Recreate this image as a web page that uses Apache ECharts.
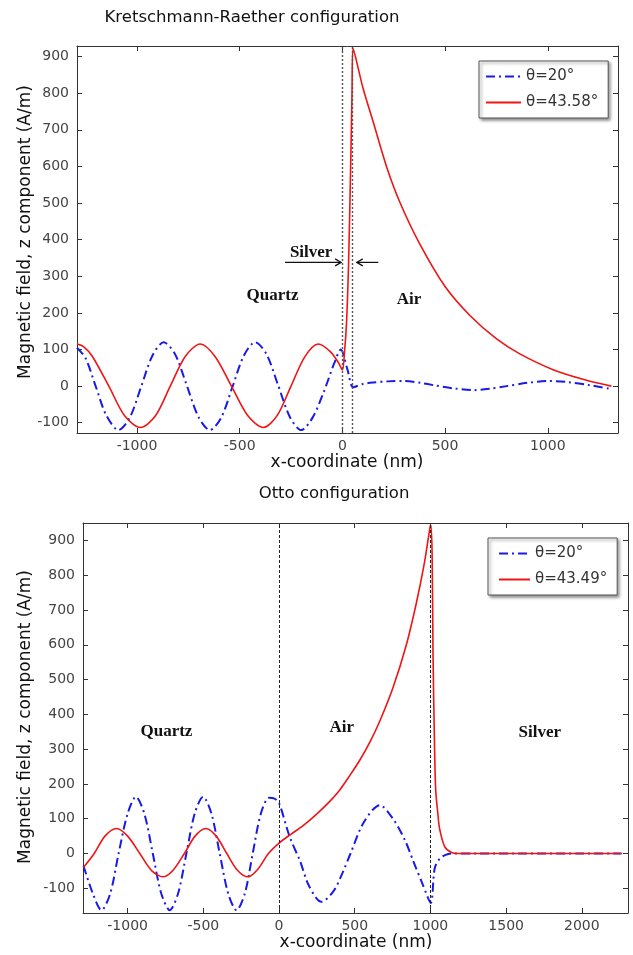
<!DOCTYPE html>
<html><head><meta charset="utf-8">
<script src="https://cdn.jsdelivr.net/npm/echarts@6/dist/echarts.min.js"></script>
<style>html,body{margin:0;padding:0;background:#fff}#c{width:633px;height:955px}</style>
</head><body><div id="c"></div>
<script>
// ---------- DATA ----------
// Kretschmann-Raether, theta = 20 deg
const kr20X = [-1292,-1250,-1200,-1150,-1090,-1035,-980,-925,-870,-815,-760,-700,-645,-590,-535,-480,-425,-370,-315,-255,-200,-145,-90,-40,-8,25,53,100,150,220,300,380,450,540,637,720,800,900,1000,1100,1200,1310];
const kr20Y = [105,76,-2,-79,-120,-86,-2,83,120,88,6,-85,-120,-86,-2,83,120,88,6,-85,-120,-86,-15,62,100,45,-3,6,10,13,14,9,2,-6,-11,-7,0,9,14,11,3,-8];
// Kretschmann-Raether, theta = 43.58 deg
const kr43X = [-1292,-1260,-1217,-1137,-1060,-983,-910,-838,-765,-692,-620,-540,-460,-384,-317,-250,-183,-117,-60,-20,0,10,20,30,40,47,52,100,151,216,281,378,500,621,751,864,1026,1189,1310];
const kr43Y = [115,108,81,0,-81,-113,-81,0,81,115,81,0,-81,-113,-80,0,80,115,95,65,44,90,170,330,590,800,923,815,720,598,501,387,272,193,129,88,45,16,0];
// Otto, theta = 20 deg
const ot20X = [-1292,-1230,-1173,-1115,-1060,-1000,-946,-890,-834,-778,-722,-667,-612,-557,-502,-447,-392,-336,-281,-226,-174,-120,-66,-30,0,71,137,200,280,360,420,472,560,665,760,835,885,950,1002,1028,1061,1100,1139,1300,1600,2000,2262];
const ot20Y = [-35,-115,-163,-115,0,115,163,115,0,-115,-163,-115,0,115,163,115,0,-115,-163,-115,0,115,160,158,145,47,-20,-95,-139,-108,-55,0,90,139,95,35,-20,-90,-142,-43,-15,-4,0,0,0,0,0];
// Otto, theta = 43.49 deg
const ot43X = [-1292,-1221,-1150,-1074,-1000,-920,-840,-766,-700,-625,-555,-484,-415,-345,-275,-205,-140,-70,0,80,159,250,335,400,467,533,600,665,753,841,907,962,995,1002,1011,1017,1028,1035,1050,1061,1094,1139,1180,1400,1800,2262];
const ot43Y = [-40,0,50,72,50,0,-50,-67,-48,0,50,72,50,0,-48,-67,-45,0,30,56,80,114,150,182,224,268,320,380,477,600,720,840,932,945,862,574,287,182,110,70,20,3,0,0,0,0];

const krXTicks = [-1000,-500,0,500,1000];
const krYTicks = [-100,0,100,200,300,400,500,600,700,800,900];
const otXTicks = [-1000,-500,0,500,1000,1500,2000];
const otYTicks = [-100,0,100,200,300,400,500,600,700,800,900];

const krNames = ['θ=20°','θ=43.58°'];
const otNames = ['θ=20°','θ=43.49°'];
const krBoundaries = [0, 50];
const otBoundaries = [0, 1000];

const titles = ['Kretschmann-Raether configuration','Otto configuration'];
const yName = 'Magnetic field, z component (A/m)';
const xName = 'x-coordinate (nm)';

// ---------- CHART ----------
const FONT = 'DejaVu Sans';
const BLUE = '#1a1ae6', RED = '#f01414';
const zip = (a, b) => a.map((v, i) => [v, b[i]]);
const plain = v => String(v);

const chart = echarts.init(document.getElementById('c'));

function xAx(grid, min, max, ticks, pos) {
  const main = pos === 'bottom';
  return {
    type:'value', gridIndex:grid, position:pos, min, max,
    axisLine:{show:true, onZero:false, lineStyle:{color:'#333', width:1}},
    axisTick:{show:true, inside:true, length:5, customValues:ticks, lineStyle:{color:'#333'}},
    axisLabel:{show:main, customValues:ticks, formatter:plain, margin:6, color:'#444', fontSize:14, fontFamily:FONT},
    splitLine:{show:false}
  };
}
function yAx(grid, min, max, ticks, pos) {
  const main = pos === 'left';
  return {
    type:'value', gridIndex:grid, position:pos, min, max,
    axisLine:{show:true, onZero:false, lineStyle:{color:'#333', width:1}},
    axisTick:{show:true, inside:true, length:5, customValues:ticks, lineStyle:{color:'#333'}},
    axisLabel:{show:main, customValues:ticks, formatter:plain, margin:8, color:'#444', fontSize:14, fontFamily:FONT},
    splitLine:{show:false}
  };
}

const blueStyle = {color:BLUE, width:2, type:[9,4,2,4]};
const redStyle = {color:RED, width:1.6};

function mk(vals, dash, color, width) {
  return {symbol:'none', silent:true, label:{show:false},
    lineStyle:{color, type:dash, width}, data:vals.map(v => ({xAxis:v}))};
}

const legendBase = {
  orient:'vertical', itemWidth:35, itemHeight:14, itemGap:11,
  borderColor:'#555', borderWidth:1, backgroundColor:'#fff',
  shadowColor:'rgba(0,0,0,0.45)', shadowBlur:3, shadowOffsetX:2, shadowOffsetY:2,
  itemStyle:{opacity:0},
  textStyle:{fontFamily:FONT, fontSize:15, color:'#333'}, selectedMode:false
};

chart.setOption({
  animation:false,
  backgroundColor:'#fff',
  grid:[
    {left:77, top:46, width:541, height:387},
    {left:83, top:523, width:545, height:390}
  ],
  xAxis:[
    xAx(0,-1292,1342,krXTicks,'bottom'), xAx(0,-1292,1342,krXTicks,'top'),
    xAx(1,-1295,2305,otXTicks,'bottom'), xAx(1,-1295,2305,otXTicks,'top')
  ],
  yAxis:[
    yAx(0,-128,929,krYTicks,'left'), yAx(0,-128,929,krYTicks,'right'),
    yAx(1,-171,950,otYTicks,'left'), yAx(1,-171,950,otYTicks,'right')
  ],
  legend:[
    Object.assign({}, legendBase, {left:479, top:61, padding:[8,10,8,6], data:krNames}),
    Object.assign({}, legendBase, {left:488, top:538, padding:[8,10,8,10], itemWidth:31, data:otNames})
  ],
  series:[
    {name:krNames[0], type:'line', xAxisIndex:0, yAxisIndex:0, data:zip(kr20X,kr20Y), symbol:'none', showSymbol:false, smooth:0.3, lineStyle:blueStyle, itemStyle:{color:BLUE}, z:3,
     markLine:mk(krBoundaries,[2,2],'#555',1.4)},
    {name:krNames[1], type:'line', xAxisIndex:0, yAxisIndex:0, data:zip(kr43X,kr43Y), symbol:'none', showSymbol:false, smooth:0.3, lineStyle:redStyle, itemStyle:{color:RED}, z:4},
    {name:otNames[0], type:'line', xAxisIndex:2, yAxisIndex:2, data:zip(ot20X,ot20Y), symbol:'none', showSymbol:false, smooth:0.3, lineStyle:blueStyle, itemStyle:{color:BLUE}, z:3,
     markLine:mk(otBoundaries,[3,2],'#222',1)},
    {name:otNames[1], type:'line', xAxisIndex:2, yAxisIndex:2, data:zip(ot43X,ot43Y), symbol:'none', showSymbol:false, smooth:0.3, lineStyle:redStyle, itemStyle:{color:RED}, z:4}
  ]
});

// ---------- ANNOTATIONS (anchored in data coordinates) ----------
const krLabels = [{t:'Quartz', x:-340, y:246}, {t:'Air', x:324, y:235}, {t:'Silver', x:-152, y:366}];
const otLabels = [{t:'Quartz', x:-744, y:351}, {t:'Air', x:414, y:363}, {t:'Silver', x:1722, y:348}];
const krArrows = [{from:[-279,338], to:[-6,338]}, {from:[175,338], to:[70,338]}];

const px = (g, x, y) => chart.convertToPixel({gridIndex:g}, [x, y]);
const g = [];
const txt = (s, x, y, size, family, weight, rot) => ({
  type:'text', x, y, rotation:rot||0, z:100,
  style:{text:s, fill:'#111', font:(weight||'normal')+' '+size+'px "'+family+'"', textAlign:'center', textVerticalAlign:'middle'}
});
g.push(txt(titles[0], 252, 18, 16.5, FONT));
g.push(txt(titles[1], 334, 494, 16.5, FONT));
g.push(txt(yName, 26, 232, 17, FONT, 'normal', Math.PI/2));
g.push(txt(yName, 26, 717, 17, FONT, 'normal', Math.PI/2));
g.push(txt(xName, 347, 463, 17, FONT));
g.push(txt(xName, 356, 943, 17, FONT));
krLabels.forEach(l => { const p = px(0, l.x, l.y); g.push(txt(l.t, p[0], p[1], 17, 'Liberation Serif', 'bold')); });
otLabels.forEach(l => { const p = px(1, l.x, l.y); g.push(txt(l.t, p[0], p[1], 17, 'Liberation Serif', 'bold')); });
krArrows.forEach(a => {
  const s = px(0, a.from[0], a.from[1]), e = px(0, a.to[0], a.to[1]);
  const d = Math.sign(e[0] - s[0]);
  g.push({type:'line', z:100, shape:{x1:s[0], y1:s[1], x2:e[0], y2:e[1]}, style:{stroke:'#111', lineWidth:1.2}});
  g.push({type:'polyline', z:100, shape:{points:[[e[0]-d*6, e[1]-3.5],[e[0], e[1]],[e[0]-d*6, e[1]+3.5]]}, style:{stroke:'#111', lineWidth:1.2, fill:null}});
});
chart.setOption({graphic:g});
</script>
</body></html>
